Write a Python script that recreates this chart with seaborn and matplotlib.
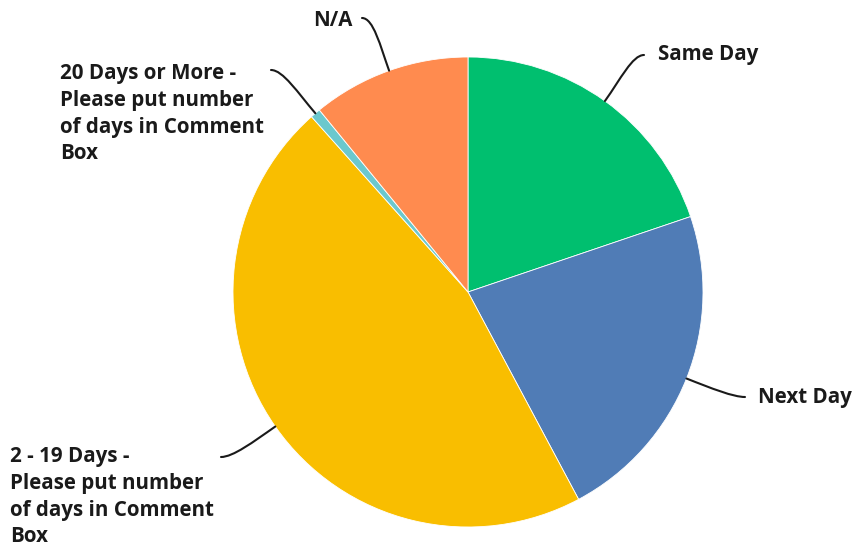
import numpy as np
import matplotlib
matplotlib.use("Agg")
import matplotlib.pyplot as plt
from matplotlib.path import Path
from matplotlib.patches import PathPatch
import seaborn as sns

# Response shares (percent), clockwise from 12 o'clock
categories = [
    "Same Day",
    "Next Day",
    "2 - 19 Days -\nPlease put number\nof days in Comment\nBox",
    "20 Days or More -\nPlease put number\nof days in Comment\nBox",
    "N/A",
]
shares = [19.8, 22.4, 46.2, 0.7, 10.9]
colors = ["#00BF6F", "#507CB6", "#F9BE00", "#6BC8CD", "#FF8B4F"]

sns.set_theme(style="white")
plt.rcParams["font.family"] = ["Open Sans", "DejaVu Sans"]

W, H = 852, 548
fig = plt.figure(figsize=(W / 100, H / 100), dpi=100)
ax = fig.add_axes([0, 0, 1, 1])

cx, cy, r = 468, 292, 235

# y axis runs downward, so increasing angles sweep clockwise on screen
wedges, _ = ax.pie(
    shares, colors=colors, startangle=-90, counterclock=True,
    center=(cx, cy), radius=r, frame=True,
    wedgeprops=dict(linewidth=0.6, edgecolor="white"),
)
ax.set_xlim(0, W)
ax.set_ylim(H, 0)
ax.set_aspect("equal")
ax.axis("off")

# Label anchors: (text x, first-line centre y, connector end x, end y, side)
layout = [
    (658, 55, 644, 55, "right"),
    (758, 398, 745, 397, "right"),
    (10, 457, 221, 457, "left"),
    (60, 74, 271, 70, "left"),
    (313, 21, 362, 18, "left"),
]

for w, label, (tx, ty, ex, ey, side) in zip(wedges, categories, layout):
    mid = np.deg2rad((w.theta1 + w.theta2) / 2)
    dx, dy = np.cos(mid), np.sin(mid)
    px, py = cx + r * dx, cy + r * dy
    k = 0.55 * np.hypot(ex - px, ey - py)
    hdir = -1 if side == "right" else 1
    verts = [
        (px, py),
        (px + dx * k * 0.8, py + dy * k * 0.8),
        (ex + hdir * k * 0.35, ey),
        (ex, ey),
    ]
    path = Path(verts, [Path.MOVETO, Path.CURVE4, Path.CURVE4, Path.CURVE4])
    ax.add_patch(PathPatch(path, fill=False, lw=1.5, color="#1a1a1a",
                           capstyle="round"))
    ax.text(tx, ty - 11, label, ha="left", va="top",
            fontsize=14.8, fontweight="bold", color="#1a1a1a",
            linespacing=1.36)

fig.savefig("out.png", dpi=100, facecolor="white")
